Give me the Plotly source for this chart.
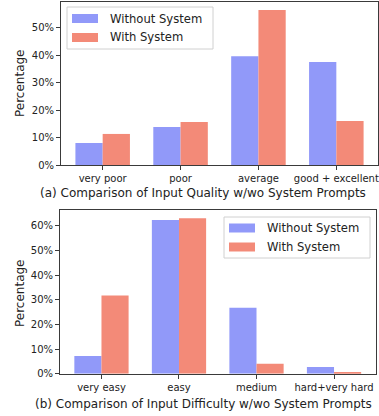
import plotly.graph_objects as go

W, H = 379, 416

quality_cats = ["very poor", "poor", "average", "good + excellent"]
quality_without = [8.0, 13.8, 39.6, 37.5]
quality_with = [11.3, 15.6, 56.4, 16.0]

difficulty_cats = ["very easy", "easy", "medium", "hard+very hard"]
difficulty_without = [7.2, 62.3, 26.8, 2.7]
difficulty_with = [31.7, 63.1, 4.0, 0.4]

series_names = ["Without System", "With System"]
quality_ticks = [0, 10, 20, 30, 40, 50]
difficulty_ticks = [0, 10, 20, 30, 40, 50, 60]

BLUE = "#9199F9"
SALMON = "#F38A78"
FONT = "DejaVu Sans"
FRAME = "#3a3a3a"


def px_x(x):
    return x / W


def px_y(y):
    return 1 - y / H


fig = go.Figure()

panels = [
    ("x", "y", quality_cats, quality_without, quality_with),
    ("x2", "y2", difficulty_cats, difficulty_without, difficulty_with),
]
for xa, ya, cats, v0, v1 in panels:
    fig.add_trace(go.Bar(x=cats, y=v0, name=series_names[0], marker_color=BLUE,
                         marker_line_width=0, xaxis=xa, yaxis=ya, showlegend=False))
    fig.add_trace(go.Bar(x=cats, y=v1, name=series_names[1], marker_color=SALMON,
                         marker_line_width=0, xaxis=xa, yaxis=ya, showlegend=False))

axis_common = dict(showline=True, linecolor=FRAME, linewidth=1, mirror=True,
                   ticks="outside", ticklen=4, tickwidth=1, tickcolor=FRAME,
                   showgrid=False, zeroline=False, automargin=False,
                   tickfont=dict(family=FONT, size=10, color="#222"))


def pct_axis(ticks, top, **kw):
    return dict(range=[0, top], tickmode="array", tickvals=ticks,
                ticktext=[f"{t}%" for t in ticks], **kw, **axis_common)


fig.update_layout(
    width=W, height=H,
    margin=dict(l=0, r=0, t=0, b=0, autoexpand=False),
    paper_bgcolor="white", plot_bgcolor="white",
    barmode="group", bargap=0.3, bargroupgap=0,
    font=dict(family=FONT, color="#222"),
    xaxis=dict(domain=[px_x(61), px_x(378)], anchor="y", range=[-0.535, 3.535], **axis_common),
    yaxis=pct_axis(quality_ticks, 59.3, domain=[px_y(165), px_y(2)], anchor="x"),
    xaxis2=dict(domain=[px_x(60), px_x(375.5)], anchor="y2", range=[-0.535, 3.535], **axis_common),
    yaxis2=pct_axis(difficulty_ticks, 66.4, domain=[px_y(373.7), px_y(210)], anchor="x2"),
)

shapes = []
annotations = []

# y-axis titles and captions
for yc in (83, 293):
    annotations.append(dict(text="Percentage", x=px_x(20), y=px_y(yc), xref="paper", yref="paper",
                            showarrow=False, textangle=-90, xanchor="center", yanchor="middle",
                            font=dict(family=FONT, size=12, color="#222")))
captions = [("(a) Comparison of Input Quality w/wo System Prompts", 193),
            ("(b) Comparison of Input Difficulty w/wo System Prompts", 404)]
for text, yc in captions:
    annotations.append(dict(text=text, x=px_x(203), y=px_y(yc), xref="paper", yref="paper",
                            showarrow=False, xanchor="center", yanchor="middle",
                            font=dict(family=FONT, size=12, color="#222")))

# legends: (box left, top, right, bottom, swatch left, first row centre, row step)
legends = [(67, 7, 213, 49, 72, 18.5, 19), (224, 217, 370, 258, 229, 228, 19)]
for bx0, by0, bx1, by1, sx, rc, step in legends:
    shapes.append(dict(type="rect", xref="paper", yref="paper",
                       x0=px_x(bx0), x1=px_x(bx1), y0=px_y(by1), y1=px_y(by0),
                       fillcolor="rgba(255,255,255,0.85)", line=dict(color="#d0d0d0", width=1)))
    for i, (name, col) in enumerate(zip(series_names, [BLUE, SALMON])):
        cy = rc + i * step
        shapes.append(dict(type="rect", xref="paper", yref="paper",
                           x0=px_x(sx), x1=px_x(sx + 26), y0=px_y(cy + 4.5), y1=px_y(cy - 4.5),
                           fillcolor=col, line=dict(width=0)))
        annotations.append(dict(text=name, x=px_x(sx + 36), y=px_y(cy), xref="paper", yref="paper",
                                showarrow=False, xanchor="left", yanchor="middle",
                                font=dict(family=FONT, size=11.6, color="#222")))

fig.update_layout(shapes=shapes, annotations=annotations)
fig.write_html("out.html")
